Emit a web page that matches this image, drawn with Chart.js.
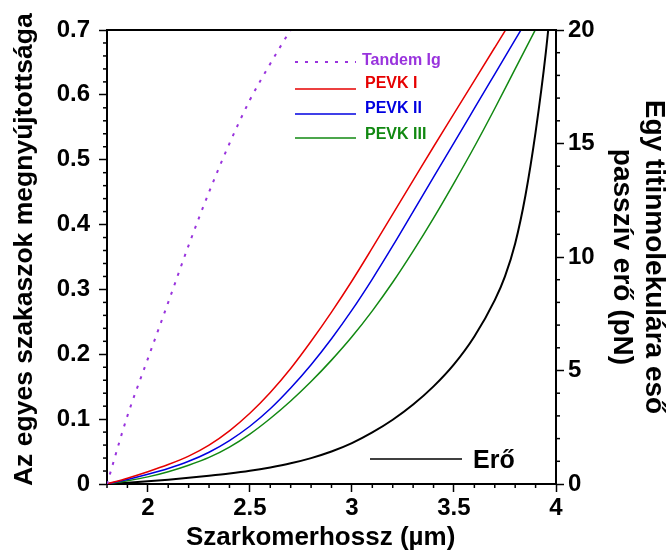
<!DOCTYPE html>
<html>
<head>
<meta charset="utf-8">
<script src="https://cdn.jsdelivr.net/npm/chart.js@4.4.1/dist/chart.umd.min.js"></script>
<style>
  body { margin: 0; background: #fff; }
</style>
</head>
<body>
<canvas id="grafico" width="670" height="553"></canvas>
<script>
// sarcomere length (µm) sample points
const szarkomer = [1.8, 1.9, 2.0, 2.1, 2.2, 2.3, 2.4, 2.5, 2.6, 2.7, 2.8, 2.9, 3.0, 3.1, 3.2, 3.3, 3.4, 3.5, 3.6, 3.7, 3.8, 3.9, 4.0];

// fractional extension of the segments (left axis)
const tandemIg = [0, 0.105, 0.193, 0.28, 0.368, 0.45, 0.525, 0.592, 0.648, 0.70, 0.745, null, null, null, null, null, null, null, null, null, null, null, null];
const pevk1 = [0, 0.009, 0.019, 0.030, 0.043, 0.060, 0.082, 0.109, 0.141, 0.178, 0.220, 0.265, 0.313, 0.364, 0.416, 0.468, 0.520, 0.571, 0.622, 0.673, 0.724, 0.775, null];
const pevk2 = [0, 0.007, 0.015, 0.024, 0.035, 0.049, 0.067, 0.089, 0.116, 0.148, 0.184, 0.224, 0.268, 0.316, 0.367, 0.420, 0.473, 0.526, 0.579, 0.632, 0.685, 0.738, 0.791];
const pevk3 = [0, 0.005, 0.011, 0.019, 0.029, 0.041, 0.057, 0.077, 0.101, 0.128, 0.158, 0.191, 0.227, 0.267, 0.311, 0.359, 0.410, 0.464, 0.520, 0.579, 0.640, 0.701, 0.762];

// passive force per titin molecule (pN, right axis)
const eroX = [1.8, 1.9, 2.0, 2.1, 2.2, 2.3, 2.4, 2.5, 2.6, 2.7, 2.8, 2.9, 3.0, 3.1, 3.2, 3.3, 3.4, 3.5, 3.6, 3.7, 3.75, 3.8, 3.85, 3.9, 3.95, 4.0];
const ero = [0, 0.06, 0.12, 0.19, 0.27, 0.36, 0.46, 0.58, 0.73, 0.91, 1.14, 1.43, 1.8, 2.27, 2.83, 3.5, 4.3, 5.27, 6.5, 8.1, 9.15, 10.6, 12.7, 15.5, 19.0, 23.5];

const FONT = "'Liberation Sans', Arial, Helvetica, sans-serif";

function pontok(xs, ys) {
  return xs.map((x, i) => ({ x: x, y: ys[i] }));
}

function tobbszoros(v, lepes) {
  return Math.abs(v / lepes - Math.round(v / lepes)) < 1e-6;
}

// legend entries drawn inside the plot
const jelmagyarazat = [
  { szoveg: 'Tandem Ig', szin: '#9933dd', dash: [3, 7], y: 62, ty: 61, tx: 362 },
  { szoveg: 'PEVK I', szin: '#e60000', dash: [], y: 89, ty: 84, tx: 365 },
  { szoveg: 'PEVK II', szin: '#0000e0', dash: [], y: 114, ty: 109, tx: 365 },
  { szoveg: 'PEVK III', szin: '#118811', dash: [], y: 138, ty: 135, tx: 365 }
];

const kiegeszitok = {
  id: 'kiegeszitok',
  afterDraw(chart) {
    const ctx = chart.ctx;
    const area = chart.chartArea;
    ctx.save();

    // minor ticks
    ctx.strokeStyle = '#000';
    ctx.lineWidth = 1.5;
    const sx = chart.scales.x;
    sx.ticks.forEach(t => {
      if (tobbszoros(t.value, 0.5)) return;
      const p = sx.getPixelForValue(t.value);
      ctx.beginPath(); ctx.moveTo(p, area.bottom); ctx.lineTo(p, area.bottom + 4); ctx.stroke();
    });
    const sy = chart.scales.y;
    sy.ticks.forEach(t => {
      if (tobbszoros(t.value, 0.1)) return;
      const p = sy.getPixelForValue(t.value);
      ctx.beginPath(); ctx.moveTo(area.left, p); ctx.lineTo(area.left - 4, p); ctx.stroke();
    });
    const sy2 = chart.scales.y2;
    sy2.ticks.forEach(t => {
      if (tobbszoros(t.value, 5)) return;
      const p = sy2.getPixelForValue(t.value);
      ctx.beginPath(); ctx.moveTo(area.right, p); ctx.lineTo(area.right + 4, p); ctx.stroke();
    });

    // top frame line
    ctx.lineWidth = 2;
    ctx.beginPath(); ctx.moveTo(area.left, area.top); ctx.lineTo(area.right, area.top); ctx.stroke();

    // legend
    ctx.font = 'bold 16px ' + FONT;
    ctx.textBaseline = 'middle';
    jelmagyarazat.forEach(j => {
      ctx.strokeStyle = j.szin;
      ctx.lineWidth = j.dash.length ? 2 : 1.3;
      ctx.setLineDash(j.dash);
      ctx.beginPath(); ctx.moveTo(295, j.y); ctx.lineTo(356, j.y); ctx.stroke();
      ctx.setLineDash([]);
      ctx.fillStyle = j.szin;
      ctx.fillText(j.szoveg, j.tx, j.ty);
    });

    ctx.strokeStyle = '#000';
    ctx.lineWidth = 1.3;
    ctx.beginPath(); ctx.moveTo(370, 459); ctx.lineTo(462, 459); ctx.stroke();
    ctx.fillStyle = '#000';
    ctx.font = 'bold 25px ' + FONT;
    ctx.fillText('Erő', 473, 461);
    ctx.restore();
  }
};

new Chart(document.getElementById('grafico').getContext('2d'), {
  type: 'line',
  data: {
    datasets: [
      { label: 'Tandem Ig', data: pontok(szarkomer, tandemIg), borderColor: '#9933dd', borderWidth: 2, borderDash: [3, 7], yAxisID: 'y' },
      { label: 'PEVK I', data: pontok(szarkomer, pevk1), borderColor: '#e60000', borderWidth: 1.5, yAxisID: 'y' },
      { label: 'PEVK II', data: pontok(szarkomer, pevk2), borderColor: '#0000e0', borderWidth: 1.5, yAxisID: 'y' },
      { label: 'PEVK III', data: pontok(szarkomer, pevk3), borderColor: '#118811', borderWidth: 1.5, yAxisID: 'y' },
      { label: 'Erő', data: pontok(eroX, ero), borderColor: '#000', borderWidth: 2, yAxisID: 'y2' }
    ]
  },
  options: {
    responsive: false,
    animation: false,
    layout: { padding: { top: 30, left: 0, right: 0, bottom: 0 } },
    elements: {
      point: { radius: 0 },
      line: { cubicInterpolationMode: 'monotone', fill: false }
    },
    plugins: {
      legend: { display: false },
      tooltip: { enabled: false }
    },
    scales: {
      x: {
        type: 'linear',
        min: 1.8,
        max: 4,
        afterFit: s => { s.height = 69; },
        border: { display: true, color: '#000', width: 2 },
        grid: {
          drawOnChartArea: false,
          tickLength: 8,
          tickWidth: 1.5,
          tickColor: c => (c.tick && tobbszoros(c.tick.value, 0.5)) ? '#000' : 'rgba(0,0,0,0)'
        },
        ticks: {
          stepSize: 0.1,
          autoSkip: false,
          maxRotation: 0,
          padding: 2,
          color: '#000',
          font: { family: FONT, size: 24, weight: 'bold' },
          callback: v => tobbszoros(v, 0.5) ? String(Math.round(v * 10) / 10) : ''
        },
        title: {
          display: true,
          text: 'Szarkomerhossz (µm)\u00a0\u00a0\u00a0',
          color: '#000',
          font: { family: FONT, size: 26, weight: 'bold', lineHeight: 1.15 },
          padding: { top: 0, bottom: 0 }
        }
      },
      y: {
        position: 'left',
        min: 0,
        max: 0.7,
        afterFit: s => { s.width = 107; },
        border: { display: true, color: '#000', width: 2 },
        grid: {
          drawOnChartArea: false,
          tickLength: 8,
          tickWidth: 1.5,
          tickColor: c => (c.tick && tobbszoros(c.tick.value, 0.1)) ? '#000' : 'rgba(0,0,0,0)'
        },
        ticks: {
          stepSize: 0.02,
          autoSkip: false,
          padding: 9,
          color: '#000',
          font: { family: FONT, size: 24, weight: 'bold' },
          callback: v => tobbszoros(v, 0.1) ? String(Math.round(v * 10) / 10) : ''
        },
        title: {
          display: true,
          text: '\u00a0\u00a0Az egyes szakaszok megnyújtottsága',
          color: '#000',
          font: { family: FONT, size: 26.5, weight: 'bold', lineHeight: 1.2 },
          padding: { top: 9, bottom: 0 }
        }
      },
      y2: {
        position: 'right',
        min: 0,
        max: 20,
        afterFit: s => { s.width = 114; },
        border: { display: true, color: '#000', width: 2 },
        grid: {
          drawOnChartArea: false,
          tickLength: 8,
          tickWidth: 1.5,
          tickColor: c => (c.tick && tobbszoros(c.tick.value, 5)) ? '#000' : 'rgba(0,0,0,0)'
        },
        ticks: {
          stepSize: 1,
          autoSkip: false,
          padding: 4,
          color: '#000',
          font: { family: FONT, size: 24, weight: 'bold' },
          callback: v => tobbszoros(v, 5) ? String(Math.round(v)) : ''
        },
        title: {
          display: true,
          text: ['Egy titinmolekulára eső', 'passzív erő (pN)'],
          color: '#000',
          font: { family: FONT, size: 28, weight: 'bold', lineHeight: 1.15 },
          padding: { top: 0, bottom: 0 }
        }
      }
    }
  },
  plugins: [kiegeszitok]
});
</script>
</body>
</html>
